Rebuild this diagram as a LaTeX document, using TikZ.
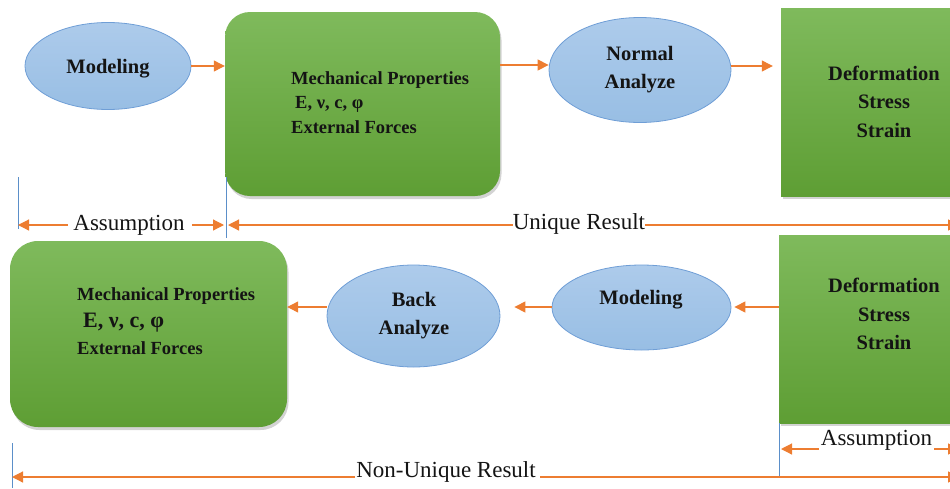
\documentclass[tikz,border=0pt]{standalone}
\usepackage{fontspec}
\setmainfont{Liberation Serif}
\usetikzlibrary{shapes.geometric,arrows.meta,shadows}
\definecolor{arrOrange}{HTML}{ED7D31}
\definecolor{dimBlue}{HTML}{5B8FC9}
\definecolor{ellBorder}{HTML}{6F9ED6}
\definecolor{ellTop}{HTML}{ADCBEB}
\definecolor{ellBot}{HTML}{98BEE4}
\definecolor{grnTop}{HTML}{7FBA5C}
\definecolor{grnBot}{HTML}{5E9E34}
\definecolor{txt}{HTML}{141414}
\begin{document}
\begin{tikzpicture}[x=1pt,y=-1pt,
  oval/.style={ellipse, draw=ellBorder, line width=0.8pt, top color=ellTop, bottom color=ellBot, inner sep=0pt},
  gbox/.style={rectangle, top color=grnTop, bottom color=grnBot, draw=none,
    drop shadow={opacity=0.35, shadow xshift=1.5pt, shadow yshift=-3pt}, inner sep=0pt},
  btxt/.style={font=\fontsize{20.5}{28.5}\selectfont\bfseries, text=txt, align=center, inner sep=0pt},
  mtxt/.style={font=\fontsize{18.5}{24.5}\selectfont\bfseries, text=txt, align=left, inner sep=0pt, anchor=west},
  ltxt/.style={font=\fontsize{23}{26}\selectfont, text=txt, inner sep=0pt},
  arr/.style={draw=arrOrange, line width=1.2pt, -{Triangle[length=11pt,width=11pt]}},
  dimline/.style={draw=dimBlue, line width=0.7pt}
]
\useasboundingbox (0,0) rectangle (950,488);
\clip (0,0) rectangle (950,488);

% ---------- top row ----------
\node[oval, minimum width=166pt, minimum height=87pt] (m1) at (108,66) {};
\node[btxt] (m1t) at (108,68.5) {Modeling};
\node[gbox, rounded corners=25pt, minimum width=275pt, minimum height=184pt] (g1) at (362.5,104) {};
\node[mtxt] (g1t) at (291,102.5) {Mechanical Properties\\\hspace*{4pt}E, ν, c, φ\\External Forces};
\node[oval, minimum width=182pt, minimum height=105pt] (na) at (640,70) {};
\node[btxt] (nat) at (640,69.5) {Normal\\Analyze};
\node[gbox, minimum width=209pt, minimum height=188pt] (g2) at (885.5,102) {};
\node[btxt] (g2t) at (884,101.5) {Deformation\\Stress\\Strain};

\draw[arr] (m1.east) -- (m1.east -| g1.west);
\draw[arr] (g1.east |- 0,65) -- (na.west |- 0,65);
\draw[arr, shorten >=8pt] (na.east |- 0,66) -- (g2.west |- 0,66);

% ---------- bottom row ----------
\node[gbox, rounded corners=28pt, minimum width=277pt, minimum height=186pt] (g3) at (148.5,334) {};
\node[mtxt, font=\fontsize{18.5}{27}\selectfont\bfseries] (g3t) at (77,321)
  {Mechanical Properties\\\hspace*{6pt}{\fontsize{22}{27}\selectfont E, ν, c, φ}\\External Forces};
\node[oval, minimum width=173pt, minimum height=102pt] (ba) at (413.5,316) {};
\node[btxt] (bat) at (414,315.5) {Back\\Analyze};
\node[oval, minimum width=179pt, minimum height=85pt] (m2) at (641.5,307.5) {};
\node[btxt] (m2t) at (641,299.5) {Modeling};
\node[gbox, minimum width=211pt, minimum height=188pt] (g4) at (884.5,329) {};
\node[btxt] (g4t) at (884,314) {Deformation\\Stress\\Strain};

\draw[arr, shorten >=3pt] (g4.west |- 0,307) -- (m2.east |- 0,307);
\draw[arr, shorten >=14pt] (m2.west |- 0,307) -- (ba.east |- 0,307);
\draw[arr] (ba.west |- 0,307) -- (g3.east |- 0,307);

% ---------- dimension lines ----------
\coordinate (vL1t) at (18,177);  \coordinate (vL1b) at (18,229);
\coordinate (vR1t) at (226,177); \coordinate (vR1b) at (226,238);
\coordinate (vL2t) at (12,443);  \coordinate (vL2b) at (12,488);
\coordinate (vR2t) at (779,423); \coordinate (vR2b) at (779,477);
\coordinate (edgeA) at (959,225);
\coordinate (edgeB) at (959,449);
\coordinate (edgeC) at (959,477);

\draw[dimline] (vL1t) -- (vL1b);
\draw[dimline] (vR1t) -- (vR1b);
\draw[dimline] (vL2t) -- (vL2b);
\draw[dimline] (vR2t) -- (vR2b);

\node[ltxt] (tA1) at (129,225) {Assumption};
\node[ltxt] (tU) at (579,224) {Unique Result};
\node[ltxt, anchor=base] (tA2) at (876.5,445) {Assumption};
\node[ltxt, anchor=base] (tN) at (446,477) {Non-Unique Result};

\draw[arr] ([xshift=-5pt]tA1.west) -- (tA1.west -| vL1t);
\draw[arr, shorten >=2pt] ([xshift=7pt]tA1.east) -- (tA1.east -| vR1t);
\draw[arr, shorten >=2pt] (tU.west |- 0,225) -- (vR1t |- 0,225);
\draw[arr] (tU.east |- 0,225) -- (edgeA);

\coordinate (a2L) at (819,449); \coordinate (a2R) at (934,449);
\draw[arr, shorten >=2pt] (a2L) -- (a2L -| vR2t);
\draw[arr] (a2R) -- (edgeB);

\coordinate (nL) at (355,477); \coordinate (nR) at (540,477);
\draw[arr] (nL) -- (nL -| vL2t);
\draw[arr] (nR) -- (edgeC);
\end{tikzpicture}
\end{document}
